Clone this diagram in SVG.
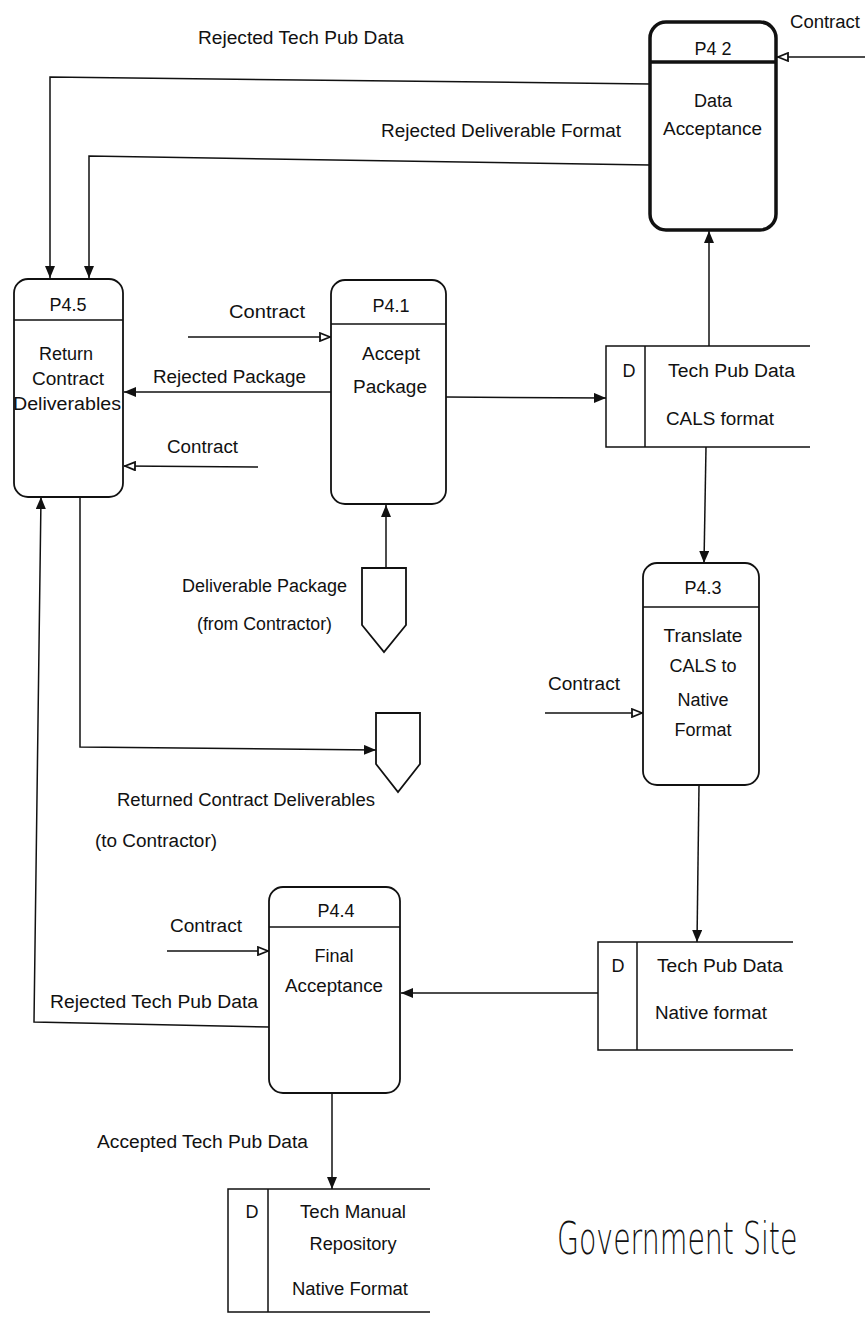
<svg xmlns="http://www.w3.org/2000/svg" width="865" height="1321" viewBox="0 0 865 1321">
<style>
text{font-family:"Liberation Sans",Arial,sans-serif;font-size:18px;fill:#111}
.m{text-anchor:middle}
.box{fill:#fff;stroke:#111;stroke-width:1.8}
.thick{fill:#fff;stroke:#111;stroke-width:3.5}
.ln{fill:none;stroke:#111;stroke-width:1.5}
.flow{fill:none;stroke:#111;stroke-width:1.5;marker-end:url(#fa)}
.oflow{fill:none;stroke:#111;stroke-width:1.5;marker-end:url(#oa)}
.gov{font-family:"DejaVu Sans",sans-serif;font-weight:200;font-size:44px}
</style>
<defs>
<marker id="fa" viewBox="0 0 12 10" refX="12" refY="5" markerWidth="12" markerHeight="10" markerUnits="userSpaceOnUse" orient="auto"><path d="M0,0 L12,5 L0,10 z" fill="#111"/></marker>
<marker id="oa" viewBox="0 0 12 10" refX="12" refY="5" markerWidth="12" markerHeight="10" markerUnits="userSpaceOnUse" orient="auto"><path d="M1,1 L11,5 L1,9 z" fill="#fff" stroke="#111" stroke-width="1.8"/></marker>
</defs>
<rect width="865" height="1321" fill="#fff"/>

<g id="connectors">
<path class="oflow" d="M865,57 L777,57"/>
<path class="flow" d="M650,84 L50,77 L50,278"/>
<path class="flow" d="M650,165 L89,156 L89,278"/>
<path class="oflow" d="M188,337 L331,337"/>
<path class="flow" d="M331,392 L124,392"/>
<path class="oflow" d="M258,467 L124,466"/>
<path class="flow" d="M446,397 L606,398"/>
<path class="flow" d="M709,346 L709,231"/>
<path class="flow" d="M706,447 L704,563"/>
<path class="oflow" d="M545,713 L643,713"/>
<path class="flow" d="M699,785 L697,942"/>
<path class="flow" d="M598,993 L401,993"/>
<path class="oflow" d="M167,951 L269,951"/>
<path class="flow" d="M269,1027 L34,1022 L41,497"/>
<path class="flow" d="M80,497 L80,747 L376,750"/>
<path class="flow" d="M386,568 L386,505"/>
<path class="flow" d="M332,1093 L332,1189"/>
<text x="790" y="28" textLength="70" lengthAdjust="spacingAndGlyphs">Contract</text>
<text x="198" y="44" textLength="206" lengthAdjust="spacingAndGlyphs">Rejected Tech Pub Data</text>
<text x="381" y="137" textLength="240" lengthAdjust="spacingAndGlyphs">Rejected Deliverable Format</text>
<text x="229" y="318" textLength="76" lengthAdjust="spacingAndGlyphs">Contract</text>
<text x="153" y="383" textLength="153" lengthAdjust="spacingAndGlyphs">Rejected Package</text>
<text x="167" y="453" textLength="71" lengthAdjust="spacingAndGlyphs">Contract</text>
<text x="548" y="690" textLength="72" lengthAdjust="spacingAndGlyphs">Contract</text>
<text x="170" y="932" textLength="72" lengthAdjust="spacingAndGlyphs">Contract</text>
<text x="50" y="1008" textLength="208" lengthAdjust="spacingAndGlyphs">Rejected Tech Pub Data</text>
<text x="97" y="1148" textLength="211" lengthAdjust="spacingAndGlyphs">Accepted Tech Pub Data</text>
</g>

<g id="P4.2">
<rect class="thick" x="650" y="22" width="126" height="208" rx="16"/>
<line x1="650" y1="62" x2="776" y2="62" stroke="#111" stroke-width="3.5"/>
<text class="m" x="713" y="55">P4 2</text>
<text class="m" x="713" y="107">Data</text>
<text x="663" y="135" textLength="99" lengthAdjust="spacingAndGlyphs">Acceptance</text>
</g>

<g id="P4.5">
<rect class="box" x="14" y="279" width="109" height="218" rx="14"/>
<line class="ln" x1="14" y1="320" x2="123" y2="320"/>
<text class="m" x="68" y="311">P4.5</text>
<text class="m" x="66" y="360">Return</text>
<text class="m" x="68" y="385" textLength="72" lengthAdjust="spacingAndGlyphs">Contract</text>
<text x="13" y="410" textLength="108" lengthAdjust="spacingAndGlyphs">Deliverables</text>
</g>

<g id="P4.1">
<rect class="box" x="331" y="280" width="115" height="224" rx="14"/>
<line class="ln" x1="331" y1="324" x2="446" y2="324"/>
<text class="m" x="391" y="312">P4.1</text>
<text class="m" x="391" y="360" textLength="58" lengthAdjust="spacingAndGlyphs">Accept</text>
<text class="m" x="390" y="393" textLength="74" lengthAdjust="spacingAndGlyphs">Package</text>
</g>

<g id="ds-cals">
<path class="ln" d="M810,346 L606,346 L606,447 L810,447 M645,346 L645,447"/>
<text class="m" x="629" y="377">D</text>
<text x="668" y="377" textLength="127" lengthAdjust="spacingAndGlyphs">Tech Pub Data</text>
<text x="666" y="425" textLength="108" lengthAdjust="spacingAndGlyphs">CALS format</text>
</g>

<g id="ext-deliverable">
<path class="box" d="M362,568 L406,568 L406,625 L384,652 L362,625 Z"/>
<text x="182" y="592" textLength="165" lengthAdjust="spacingAndGlyphs">Deliverable Package</text>
<text x="197" y="630" textLength="135" lengthAdjust="spacingAndGlyphs">(from Contractor)</text>
</g>

<g id="P4.3">
<rect class="box" x="643" y="563" width="116" height="222" rx="14"/>
<line class="ln" x1="643" y1="607" x2="759" y2="607"/>
<text class="m" x="703" y="594">P4.3</text>
<text class="m" x="703" y="642" textLength="79" lengthAdjust="spacingAndGlyphs">Translate</text>
<text class="m" x="703" y="672">CALS to</text>
<text class="m" x="703" y="706">Native</text>
<text class="m" x="703" y="736">Format</text>
</g>

<g id="ext-returned">
<path class="box" d="M376,713 L420,713 L420,764 L398,792 L376,764 Z"/>
<text x="117" y="806" textLength="258" lengthAdjust="spacingAndGlyphs">Returned Contract Deliverables</text>
<text x="95" y="847" textLength="122" lengthAdjust="spacingAndGlyphs">(to Contractor)</text>
</g>

<g id="P4.4">
<rect class="box" x="269" y="887" width="131" height="206" rx="14"/>
<line class="ln" x1="269" y1="927" x2="400" y2="927"/>
<text class="m" x="336" y="917">P4.4</text>
<text class="m" x="334" y="962">Final</text>
<text x="285" y="992" textLength="98" lengthAdjust="spacingAndGlyphs">Acceptance</text>
</g>

<g id="ds-native">
<path class="ln" d="M793,942 L598,942 L598,1050 L793,1050 M637,942 L637,1050"/>
<text class="m" x="618" y="972">D</text>
<text x="657" y="972" textLength="126" lengthAdjust="spacingAndGlyphs">Tech Pub Data</text>
<text x="655" y="1019" textLength="112" lengthAdjust="spacingAndGlyphs">Native format</text>
</g>

<g id="ds-repository">
<path class="ln" d="M430,1189 L228,1189 L228,1312 L430,1312 M268,1189 L268,1312"/>
<text class="m" x="252" y="1218">D</text>
<text x="300" y="1218" textLength="106" lengthAdjust="spacingAndGlyphs">Tech Manual</text>
<text class="m" x="353" y="1250" textLength="87" lengthAdjust="spacingAndGlyphs">Repository</text>
<text x="292" y="1295" textLength="116" lengthAdjust="spacingAndGlyphs">Native Format</text>
</g>

<g id="site-label">
<text class="gov" transform="translate(557,1254) scale(0.645,1)" x="0" y="0">Government Site</text>
</g>
</svg>
